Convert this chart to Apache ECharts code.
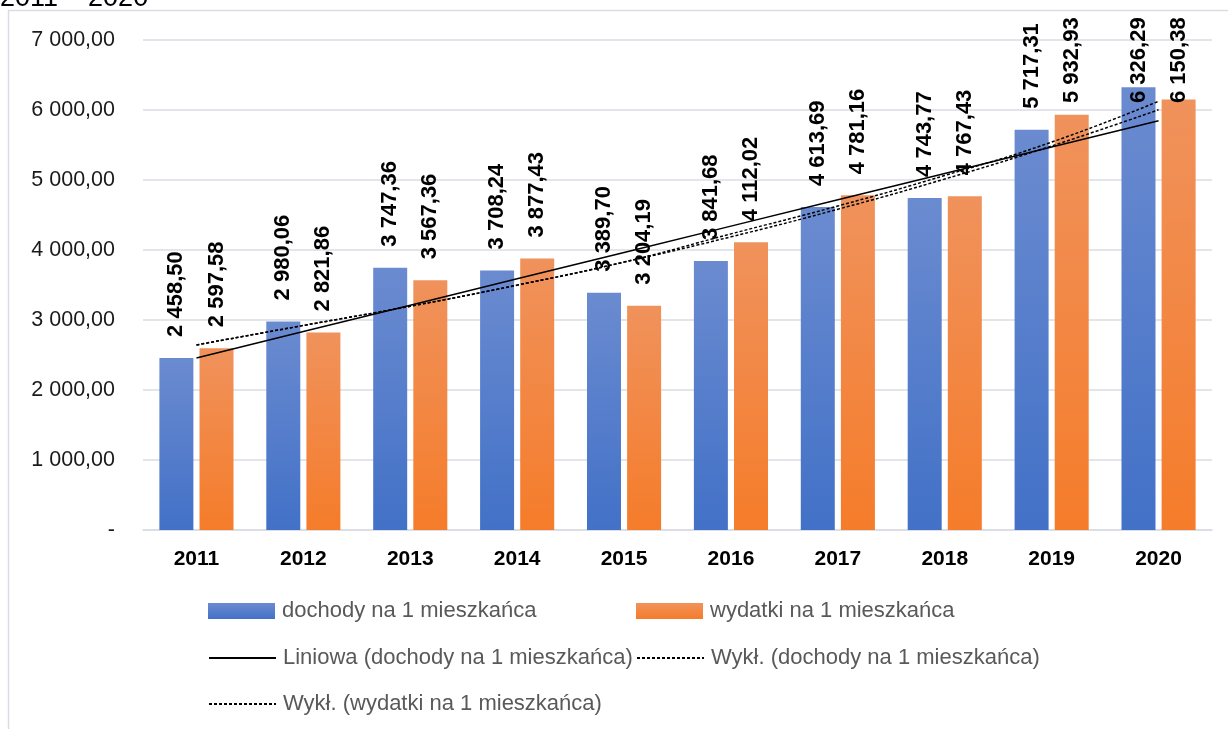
<!DOCTYPE html>
<html>
<head>
<meta charset="utf-8">
<title>dochody i wydatki na 1 mieszkańca</title>
<script src="https://cdn.jsdelivr.net/npm/echarts@6/dist/echarts.min.js"></script>
<style>
html, body { margin: 0; padding: 0; background: #fff; }
#chart { width: 1228px; height: 729px; }
</style>
</head>
<body>
<div id="chart"></div>
<script>
var years = ['2011', '2012', '2013', '2014', '2015', '2016', '2017', '2018', '2019', '2020'];
var dochody = [2458.50, 2980.06, 3747.36, 3708.24, 3389.70, 3841.68, 4613.69, 4743.77, 5717.31, 6326.29];
var wydatki = [2597.58, 2821.86, 3567.36, 3877.43, 3204.19, 4112.02, 4781.16, 4767.43, 5932.93, 6150.38];
var yTicks = [0, 1000, 2000, 3000, 4000, 5000, 6000, 7000];

var nDoch = 'dochody na 1 mieszkańca';
var nWyd = 'wydatki na 1 mieszkańca';
var nLin = 'Liniowa (dochody na 1 mieszkańca)';
var nExpD = 'Wykł. (dochody na 1 mieszkańca)';
var nExpW = 'Wykł. (wydatki na 1 mieszkańca)';

// liczby w formacie "2 458,50"
function fmt(v) {
	var p = v.toFixed(2).split('.');
	return p[0].replace(/\B(?=(\d{3})+(?!\d))/g, ' ') + ',' + p[1];
}

// linia trendu liniowa (jak w Excelu, x = 1..n)
function linTrend(arr) {
	var n = arr.length, sx = 0, sy = 0, sxy = 0, sxx = 0;
	for (var i = 0; i < n; i++) {
		var x = i + 1;
		sx += x; sy += arr[i]; sxy += x * arr[i]; sxx += x * x;
	}
	var b = (n * sxy - sx * sy) / (n * sxx - sx * sx);
	var a = (sy - b * sx) / n;
	return arr.map(function(v, i) { return +(a + b * (i + 1)).toFixed(2); });
}

// trend wykladniczy
function expTrend(arr) {
	var logs = arr.map(function(v) { return Math.log(v); });
	return linTrend(logs).map(function(v) { return +Math.exp(v).toFixed(2); });
}

function grad(top, bottom) {
	return new echarts.graphic.LinearGradient(0, 0, 0, 1, [
		{ offset: 0, color: top },
		{ offset: 1, color: bottom }
	]);
}

var font = 'Liberation Sans, Arial, sans-serif';
var labelDist = 21;
var labelLen = 86; // dlugosc obroconej etykiety w px
var labelTopLimit = 17;

var barLabel = {
	show: true,
	position: 'top',
	distance: labelDist,
	rotate: 90,
	align: 'left',
	verticalAlign: 'middle',
	fontFamily: font,
	fontSize: 22,
	fontWeight: 'bold',
	color: '#000',
	formatter: function(p) { return fmt(p.value); }
};

function legendAt(name, left, top, isLine) {
	var lg = {
		data: [name],
		left: left,
		top: top,
		padding: 0,
		itemWidth: 67,
		itemHeight: 16,
		selectedMode: false,
		textStyle: { fontFamily: font, fontSize: 22, color: '#595959', padding: [0, 0, 0, 2] }
	};
	if (isLine) {
		lg.itemStyle = { opacity: 0 };
	} else {
		lg.icon = 'rect';
	}
	return lg;
}

var chart = echarts.init(document.getElementById('chart'));
var option = {
	animation: false,
	backgroundColor: '#fff',
	graphic: [
		{
			type: 'rect',
			shape: { x: 8.5, y: 10.5, width: 1240, height: 740 },
			style: { fill: 'none', stroke: '#d9dde3', lineWidth: 1.5 },
			silent: true
		},
		{
			type: 'text',
			left: 0,
			top: -15,
			style: { text: '2011 – 2020', fontFamily: font, fontSize: 27, fill: '#000' }
		}
	],
	grid: { left: 143, right: 16, top: 40, bottom: 199 },
	legend: [
		legendAt(nDoch, 208, 600, false),
		legendAt(nWyd, 636, 600, false),
		legendAt(nLin, 208, 647, true),
		legendAt(nExpD, 636, 647, true),
		legendAt(nExpW, 208, 693, true)
	],
	xAxis: {
		type: 'category',
		data: years,
		axisTick: { show: false },
		axisLine: { lineStyle: { color: '#d9dde3', width: 1.5 } },
		axisLabel: { fontFamily: font, fontSize: 21, fontWeight: 'bold', color: '#000', margin: 19 }
	},
	yAxis: {
		type: 'value',
		min: yTicks[0],
		max: yTicks[yTicks.length - 1],
		interval: 1000,
		axisLine: { show: false },
		axisTick: { show: false },
		splitLine: { lineStyle: { color: '#d9dde3', width: 1.5 } },
		axisLabel: {
			fontFamily: font,
			fontSize: 21.5,
			color: '#1a1a1a',
			margin: 28,
			formatter: function(v) { return v === 0 ? '-' : fmt(v); }
		}
	},
	series: [
		{
			name: nDoch,
			type: 'bar',
			data: dochody,
			barWidth: 34,
			barGap: '18%',
			itemStyle: { color: grad('#6b8bd0', '#4271c7') },
			label: barLabel
		},
		{
			name: nWyd,
			type: 'bar',
			data: wydatki,
			barWidth: 34,
			itemStyle: { color: grad('#f0925c', '#f57c2a') },
			label: barLabel
		},
		{
			name: nLin,
			type: 'line',
			data: linTrend(dochody),
			symbol: 'none',
			lineStyle: { color: '#000', width: 1.5, type: 'solid' },
			itemStyle: { color: '#000' },
			z: 5
		},
		{
			name: nExpD,
			type: 'line',
			data: expTrend(dochody),
			smooth: true,
			symbol: 'none',
			lineStyle: { color: '#000', width: 1.5, type: [3, 2] },
			itemStyle: { color: '#000' },
			z: 5
		},
		{
			name: nExpW,
			type: 'line',
			data: expTrend(wydatki),
			smooth: true,
			symbol: 'none',
			lineStyle: { color: '#000', width: 1.5, type: [3, 2] },
			itemStyle: { color: '#000' },
			z: 5
		}
	]
};
chart.setOption(option);

// etykiety nie wychodza ponad obszar wykresu (jak w Excelu) - przesuwamy je w dol
function clampLabels(arr, seriesIndex) {
	return arr.map(function(v, i) {
		var top = chart.convertToPixel({ seriesIndex: seriesIndex }, [i, v])[1];
		var d = Math.min(labelDist, top - labelLen - labelTopLimit);
		if (d === labelDist) return v;
		return { value: v, label: { distance: d } };
	});
}
chart.setOption({
	series: [
		{ data: clampLabels(dochody, 0) },
		{ data: clampLabels(wydatki, 1) }
	]
});
</script>
</body>
</html>
